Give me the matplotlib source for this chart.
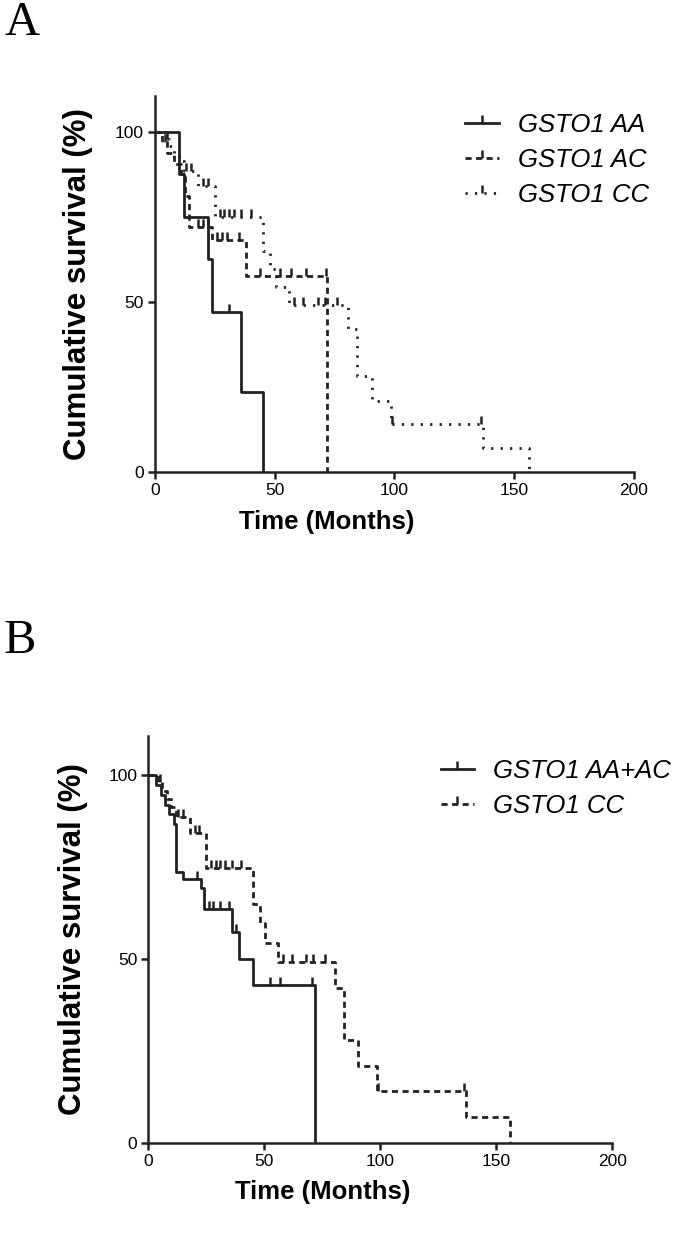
import numpy as np
import matplotlib.pyplot as plt
from matplotlib.lines import Line2D

plt.rcParams['font.family'] = ['Liberation Sans', 'DejaVu Sans']

# Panel A: GSTO1 AA (event times in months, survival % after the event)
aa_t = [10, 12, 22, 24, 36, 45]
aa_s = [87.5, 75.0, 62.5, 46.9, 23.4, 0]
aa_cens = [31]

# Panel A: GSTO1 AC
ac_t = [3, 5, 8, 11, 12.5, 14, 24, 38, 72]
ac_s = [96.9, 93.8, 90.6, 87.5, 81.0, 71.9, 68.1, 57.7, 0]
ac_cens = [4, 18, 20, 22, 26, 28, 30, 35, 44, 52, 57, 63, 71.5]

# GSTO1 CC (same group in both panels)
cc_t = [4, 6, 8, 10, 12, 18, 25, 45, 48, 50.5, 56, 80.5, 84.4, 90.5, 98.4, 137, 156]
cc_s = [97.9, 95.7, 93.5, 91.3, 88.6, 84.1, 74.8, 64.9, 59.6, 54.3, 49.1,
        42.1, 28.1, 21.0, 14.0, 7.0, 0]
cc_cens = [5, 13, 15, 20, 22, 27, 29, 31, 33, 36, 40, 58, 62, 68, 71, 76, 99, 136]

# Panel B: GSTO1 AA+AC
aaac_t = [3.5, 5.5, 7, 9, 11, 12, 15, 22.7, 24, 36, 39, 45.3, 72]
aaac_s = [97.3, 94.6, 91.9, 89.2, 86.5, 73.7, 71.7, 69.2, 63.5, 57.4, 49.9, 42.8, 0]
aaac_cens = [21, 26, 28, 31, 35, 38, 52.5, 56.8, 70.4]

xticks = [0, 50, 100, 150, 200]
yticks = [0, 50, 100]


def surv_at(t, times, surv):
    s = 100.0
    for ti, si in zip(times, surv):
        if ti <= t:
            s = si
    return s


def km(ax, times, surv, cens, ls, label):
    x = [0] + list(times)
    y = [100] + list(surv)
    if y[-1] > 0:
        x.append(max(cens))
        y.append(y[-1])
    ax.step(x, y, where='post', color='#222222', lw=2, linestyle=ls)
    cy = [surv_at(c, times, surv) for c in cens]
    ax.plot(cens, cy, linestyle='none', marker=2, markersize=6,
            markeredgewidth=1.8, color='#222222')
    return Line2D([], [], color='#222222', lw=2, linestyle=ls, marker=2,
                  markersize=6, markeredgewidth=1.8, label=label)


def style(ax, xlab_x, xlab_y, ylab_x):
    ax.set_xlim(0, 200)
    ax.set_ylim(0, 110.5)
    ax.set_xticks(xticks)
    ax.set_yticks(yticks)
    ax.spines['top'].set_visible(False)
    ax.spines['right'].set_visible(False)
    for s in ['left', 'bottom']:
        ax.spines[s].set_linewidth(1.8)
        ax.spines[s].set_color('#222222')
    ax.tick_params(width=1.8, length=5, labelsize=12.5, color='#222222', pad=3)
    ax.set_xlabel('Time (Months)', fontsize=18.5, fontweight='bold')
    ax.set_ylabel('Cumulative survival (%)', fontsize=22.5, fontweight='bold')
    ax.xaxis.set_label_coords(xlab_x, xlab_y)
    ax.yaxis.set_label_coords(ylab_x, 0.5)


dashed = (0, (2.2, 1.6))
dotted = (0, (0.8, 2.6))
leg_kw = dict(loc='upper left', frameon=False, prop={'size': 18.5, 'style': 'italic'},
              handlelength=1.3, handletextpad=0.75, labelspacing=0.42,
              borderpad=0, numpoints=1)

fig = plt.figure(figsize=(6.75, 12.42), dpi=100)

axA = fig.add_axes([0.2296, 0.6200, 0.7096, 0.3027])
h1 = km(axA, aa_t, aa_s, aa_cens, '-', 'GSTO1 AA')
h2 = km(axA, ac_t, ac_s, ac_cens, dashed, 'GSTO1 AC')
h3 = km(axA, cc_t, cc_s, cc_cens, dotted, 'GSTO1 CC')
style(axA, 0.359, -0.10, -0.13)
fig.legend(handles=[h1, h2, h3], bbox_to_anchor=(0.670, 0.919), **leg_kw)

axB = fig.add_axes([0.2197, 0.0797, 0.6874, 0.3277])
g1 = km(axB, aaac_t, aaac_s, aaac_cens, '-', 'GSTO1 AA+AC')
g2 = km(axB, cc_t, cc_s, cc_cens, dashed, 'GSTO1 CC')
style(axB, 0.376, -0.09, -0.13)
fig.legend(handles=[g1, g2], bbox_to_anchor=(0.634, 0.399), **leg_kw)

fig.text(0.006, 0.999, 'A', va='top', ha='left', family='Liberation Serif', fontsize=35)
fig.text(0.006, 0.502, 'B', va='top', ha='left', family='Liberation Serif', fontsize=35)

fig.savefig('out.png', dpi=100)
